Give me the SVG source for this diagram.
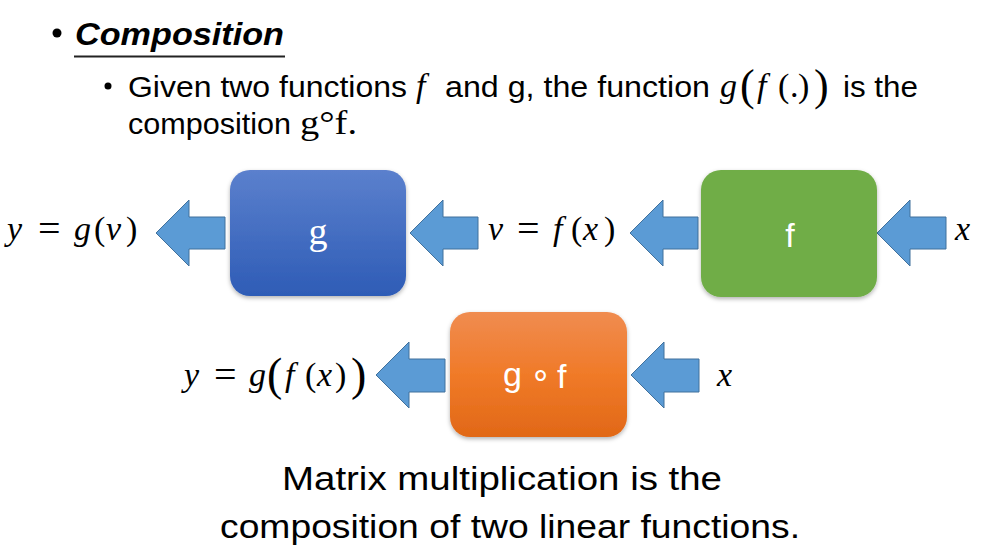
<svg xmlns="http://www.w3.org/2000/svg" width="1005" height="559" viewBox="0 0 1005 559">
<style>
.t{font-family:"Liberation Sans",Arial,sans-serif;fill:#000}
.m{font-family:"Liberation Serif","Times New Roman",serif;fill:#000;font-size:34px}
.i{font-style:italic}
.eq{font-size:40px}
.arr{fill:#5B9BD5;stroke:#41719C;stroke-width:1}
.lbl{font-family:"Liberation Sans",Arial,sans-serif;fill:#fff;font-size:34px}
</style>
<defs>
<linearGradient id="gb" x1="0" y1="0" x2="0" y2="1"><stop offset="0" stop-color="#5B80CD"/><stop offset="1" stop-color="#2E5CB6"/></linearGradient>
<linearGradient id="go" x1="0" y1="0" x2="0" y2="1"><stop offset="0" stop-color="#F08C50"/><stop offset="0.5" stop-color="#F07A28"/><stop offset="1" stop-color="#E16817"/></linearGradient>
<filter id="sh" x="-10%" y="-10%" width="120%" height="130%"><feDropShadow dx="0" dy="2" stdDeviation="2" flood-color="#000" flood-opacity="0.3"/></filter>
</defs>
<rect width="1005" height="559" fill="#fff"/>

<g id="heading">
<circle cx="57" cy="33" r="4.5" fill="#000"/>
<text class="t" x="75" y="45" font-size="31" font-weight="bold" font-style="italic" textLength="209" lengthAdjust="spacingAndGlyphs">Composition</text>
<rect x="74" y="55.5" width="211" height="2" fill="#222"/>
</g>

<g id="bullet-text">
<circle cx="108" cy="86" r="3.5" fill="#000"/>
<text class="t" x="128" y="97" font-size="30" textLength="279" lengthAdjust="spacingAndGlyphs">Given two functions</text>
<text class="m i" x="416" y="97" font-size="34">f</text>
<text class="t" x="445" y="97" font-size="30" textLength="265" lengthAdjust="spacingAndGlyphs">and g, the function</text>
<text class="m" y="97" font-size="34"><tspan class="i" x="720">g</tspan><tspan x="740" y="100" font-size="44">(</tspan><tspan class="i" x="757" y="97">f</tspan><tspan x="778">(</tspan><tspan x="790">.</tspan><tspan x="798">)</tspan><tspan x="814" y="100" font-size="44">)</tspan></text>
<text class="t" x="843" y="97" font-size="30" textLength="75" lengthAdjust="spacingAndGlyphs">is the</text>
<text class="t" x="128" y="134" font-size="30" textLength="163" lengthAdjust="spacingAndGlyphs">composition</text>
<text class="m" x="300" y="134" font-size="32" textLength="57" lengthAdjust="spacingAndGlyphs">g°f.</text>
</g>

<g id="connectors">
<polygon class="arr" points="156,233 189,200 189,217 225,217 225,249 189,249 189,266"/>
<polygon class="arr" points="410,233 443,200 443,217 478,217 478,249 443,249 443,266"/>
<polygon class="arr" points="630,233 663,200 663,217 698,217 698,249 663,249 663,266"/>
<polygon class="arr" points="877,233 910,200 910,217 946,217 946,249 910,249 910,266"/>
<polygon class="arr" points="376,375 409,342 409,359 445,359 445,392 409,392 409,408"/>
<polygon class="arr" points="631,375 664,342 664,359 699,359 699,392 664,392 664,408"/>
</g>

<g id="node-g">
<rect x="230" y="170" width="176" height="126" rx="20" fill="url(#gb)" filter="url(#sh)"/>
<text x="318" y="244" text-anchor="middle" font-family="Liberation Serif, serif" font-size="38" fill="#fff">g</text>
</g>

<g id="node-f">
<rect x="701" y="170" width="176" height="127" rx="20" fill="#70AD47" filter="url(#sh)"/>
<text class="lbl" x="790" y="247" text-anchor="middle">f</text>
</g>

<g id="node-gf">
<rect x="450" y="312" width="177" height="125" rx="20" fill="url(#go)" filter="url(#sh)"/>
<text class="lbl" x="503" y="386">g</text>
<text class="lbl" x="540" y="386" text-anchor="middle" font-size="24">∘</text>
<text class="lbl" x="557" y="388">f</text>
</g>

<g id="label-y">
<text class="m" y="240"><tspan class="i" x="7">y</tspan><tspan class="eq" x="38" y="242">=</tspan><tspan class="i" x="74" y="240">g</tspan><tspan x="94">(</tspan><tspan class="i" x="106">v</tspan><tspan x="126">)</tspan></text>
</g>
<g id="label-v">
<text class="m" y="240"><tspan class="i" x="488">v</tspan><tspan class="eq" x="517" y="242">=</tspan><tspan class="i" x="553" y="240">f</tspan><tspan x="571">(</tspan><tspan class="i" x="583">x</tspan><tspan x="604">)</tspan></text>
</g>
<g id="label-x1">
<text class="m i" x="955" y="240">x</text>
</g>
<g id="label-ygf">
<text class="m" y="386"><tspan class="i" x="184">y</tspan><tspan class="eq" x="214" y="388">=</tspan><tspan class="i" x="249" y="386">g</tspan><tspan x="267" y="390" font-size="46">(</tspan><tspan class="i" x="285" y="386">f</tspan><tspan x="305">(</tspan><tspan class="i" x="317">x</tspan><tspan x="335">)</tspan><tspan x="351" y="390" font-size="46">)</tspan></text>
</g>
<g id="label-x2">
<text class="m i" x="717" y="386">x</text>
</g>

<g id="caption">
<text class="t" x="282" y="490" font-size="34" textLength="440" lengthAdjust="spacingAndGlyphs">Matrix multiplication is the</text>
<text class="t" x="220" y="538" font-size="34" textLength="580" lengthAdjust="spacingAndGlyphs">composition of two linear functions.</text>
</g>
</svg>
